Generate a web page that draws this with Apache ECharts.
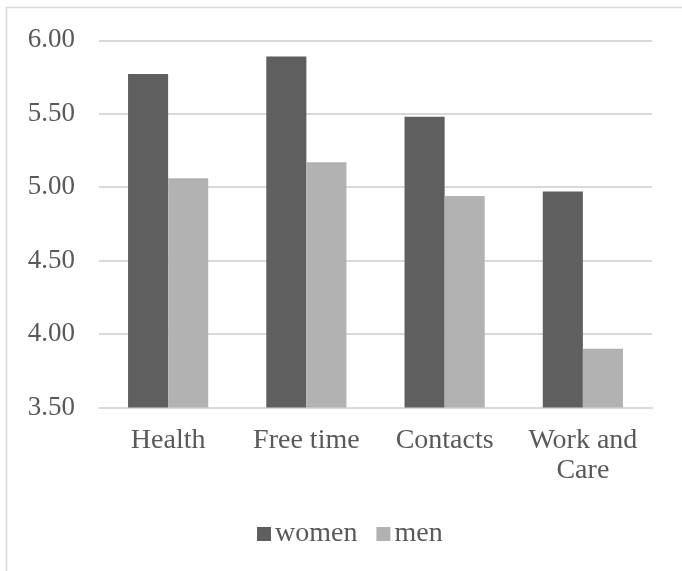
<!DOCTYPE html>
<html>
<head>
<meta charset="utf-8">
<script src="https://cdn.jsdelivr.net/npm/echarts@6/dist/echarts.min.js"></script>
<style>
html,body{margin:0;padding:0;background:#fff;}
#chart{width:682px;height:571px;}
</style>
</head>
<body>
<div id="chart"></div>
<script>
var categories = ['Health', 'Free time', 'Contacts', 'Work and\nCare'];
var women = [5.77, 5.89, 5.48, 4.97];
var men = [5.06, 5.17, 4.94, 3.90];
var seriesNames = ['women', 'men'];
var yMin = 3.5, yMax = 6.0, yStep = 0.5;

var FONT = '"Liberation Serif", "Times New Roman", serif';
var TXT = '#595959';

var chart = echarts.init(document.getElementById('chart'), null, {renderer: 'canvas'});
chart.setOption({
  animation: false,
  backgroundColor: '#ffffff',
  graphic: [{
    type: 'rect',
    silent: true,
    shape: {x: 6.5, y: 7.5, width: 720, height: 620},
    style: {fill: 'none', stroke: '#d9d9d9', lineWidth: 1.5}
  }],
  grid: {left: 99, right: 30, top: 40.3, bottom: 163.5, containLabel: false},
  legend: {
    data: seriesNames,
    left: 257,
    top: 520,
    padding: 0,
    itemWidth: 14,
    itemHeight: 14,
    itemGap: 19,
    icon: 'rect',
    textStyle: {fontFamily: FONT, fontSize: 28, color: TXT, padding: [0, 0, 0, -1]}
  },
  xAxis: {
    type: 'category',
    data: categories,
    axisLine: {show: true, lineStyle: {color: '#d9d9d9', width: 2}},
    axisTick: {show: false},
    axisLabel: {
      fontFamily: FONT, fontSize: 28, color: TXT, margin: 18,
      lineHeight: 30, interval: 0
    }
  },
  yAxis: {
    type: 'value',
    min: yMin, max: yMax, interval: yStep,
    axisLine: {show: false},
    axisTick: {show: false},
    splitLine: {lineStyle: {color: '#d9d9d9', width: 2}},
    axisLabel: {
      fontFamily: FONT, fontSize: 27, color: TXT, margin: 24,
      formatter: function (v) { return v.toFixed(2); }
    }
  },
  series: [
    {
      name: seriesNames[0], type: 'bar', data: women,
      barGap: '0%', barCategoryGap: '42%',
      itemStyle: {color: '#5f5f5f'}
    },
    {
      name: seriesNames[1], type: 'bar', data: men,
      barGap: '0%', barCategoryGap: '42%',
      itemStyle: {color: '#b2b2b2'}
    }
  ]
});
</script>
</body>
</html>
